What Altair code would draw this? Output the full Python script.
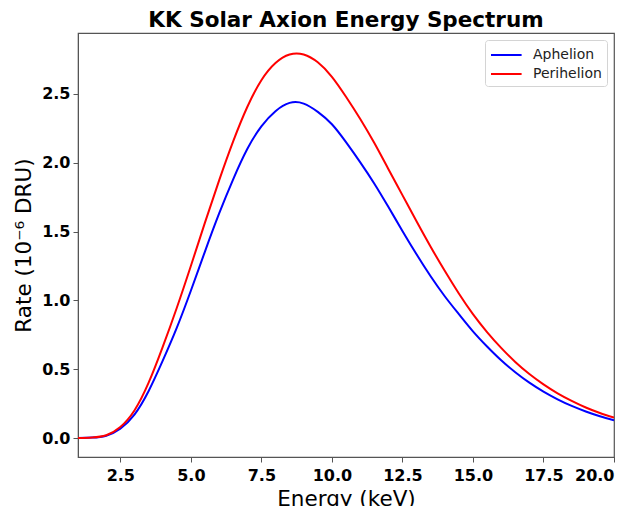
import altair as alt
import pandas as pd

energy = [1.0, 1.5, 2.0, 2.5, 3.0, 3.5, 4.0, 4.5, 5.0, 5.5, 6.0, 6.5, 7.0, 7.5, 8.0, 8.5,
          9.0, 9.5, 10.0, 10.5, 11.0, 11.5, 12.0, 12.5, 13.0, 13.5, 14.0, 14.5, 15.0,
          15.5, 16.0, 16.5, 17.0, 17.5, 18.0, 18.5, 19.0, 19.5, 20.0]
aphelion = [0.0, 0.003, 0.017, 0.068, 0.17, 0.34, 0.56, 0.80, 1.07, 1.355, 1.63, 1.88, 2.10,
            2.265, 2.375, 2.435, 2.43, 2.37, 2.28, 2.15, 2.005, 1.85, 1.68, 1.505, 1.335,
            1.175, 1.03, 0.90, 0.775, 0.665, 0.565, 0.478, 0.402, 0.337, 0.281, 0.233,
            0.193, 0.158, 0.128]
perihelion = [0.0, 0.004, 0.02, 0.08, 0.20, 0.40, 0.66, 0.945, 1.25, 1.565, 1.87, 2.155, 2.405,
              2.60, 2.725, 2.787, 2.787, 2.73, 2.625, 2.48, 2.32, 2.145, 1.955, 1.765, 1.575,
              1.39, 1.215, 1.05, 0.90, 0.77, 0.655, 0.553, 0.465, 0.39, 0.325, 0.27, 0.222,
              0.182, 0.148]
series_names = ["Aphelion", "Perihelion"]
series_colors = ["#0000ff", "#ff0000"]
x_ticks = [2.5, 5.0, 7.5, 10.0, 12.5, 15.0, 17.5, 20.0]
y_ticks = [0.0, 0.5, 1.0, 1.5, 2.0, 2.5]

rows = []
for name, vals in zip(series_names, [aphelion, perihelion]):
    for e, v in zip(energy, vals):
        rows.append({"Energy": e, "Rate": v, "Series": name})
df = pd.DataFrame(rows)

FONT = "DejaVu Sans"

chart = alt.Chart(df).mark_line(strokeWidth=2, interpolate="natural", clip=True).encode(
    x=alt.X("Energy:Q",
            scale=alt.Scale(domain=[1, 20], nice=False, zero=False),
            axis=alt.Axis(values=x_ticks, format=".1f", title="Energy (keV)",
                          grid=False)),
    y=alt.Y("Rate:Q",
            scale=alt.Scale(domain=[-0.138, 2.943], nice=False, zero=False),
            axis=alt.Axis(values=y_ticks, format=".1f", title="Rate (10⁻⁶ DRU)",
                          grid=False)),
    color=alt.Color("Series:N",
                    scale=alt.Scale(domain=series_names, range=series_colors),
                    legend=alt.Legend(title=None, orient="top-right", offset=7,
                                      symbolType="M-1,0L2.4,0", symbolSize=324,
                                      symbolStrokeWidth=2, labelOffset=23,
                                      labelFontSize=14, labelFont=FONT,
                                      labelColor="#222", strokeColor="#d4d4d4",
                                      fillColor="white", padding=5, cornerRadius=3,
                                      rowPadding=2)),
    order=alt.Order("Energy:Q"),
).properties(
    width=536, height=424,
    title=alt.TitleParams("KK Solar Axion Energy Spectrum", font=FONT, fontSize=21.5,
                          fontWeight="bold", color="black", offset=2),
    autosize=alt.AutoSizeParams(type="none"),
    padding={"left": 70, "top": 25, "right": 14, "bottom": 60},
).configure_view(
    stroke="#555", strokeWidth=1.2
).configure_axis(
    labelFont=FONT, labelFontSize=16, labelFontWeight="bold", labelColor="black",
    titleFont=FONT, titleFontSize=21.5, titleFontWeight="normal", titleColor="black",
    domainColor="#555", tickColor="#555", tickSize=5,
).configure_axisX(labelPadding=5, titleBaseline="alphabetic", titleY=48
).configure_axisY(labelPadding=3, titlePadding=6)

chart.save("out.html", embed_options={"renderer": "svg", "actions": False})
